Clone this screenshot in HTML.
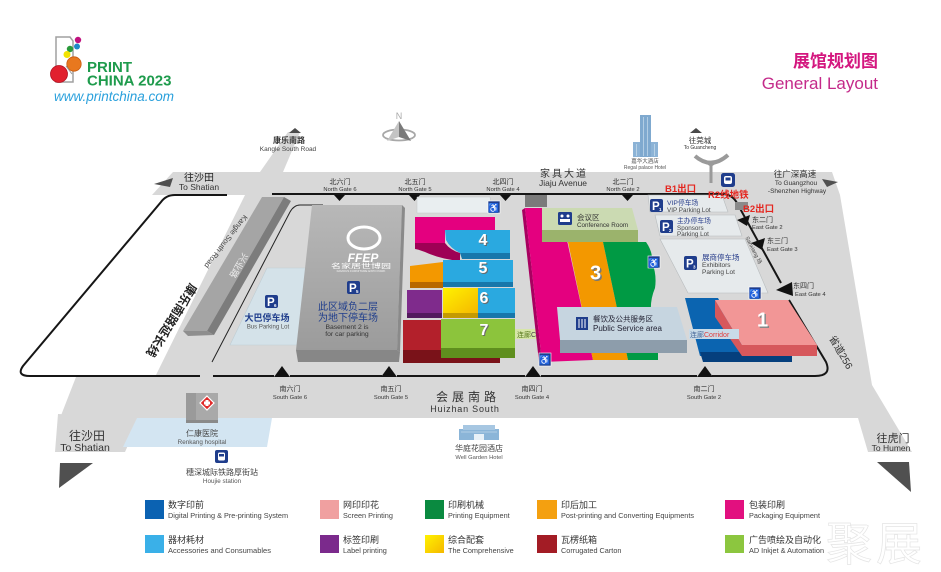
<!DOCTYPE html>
<html><head><meta charset="utf-8">
<style>
html,body{margin:0;padding:0;background:#fff;}
svg{display:block;}
text{font-family:"Liberation Sans","Noto Sans CJK SC",sans-serif;}
</style></head><body>
<svg width="941" height="572" viewBox="0 0 941 572" xmlns="http://www.w3.org/2000/svg">
<defs>
<linearGradient id="gBox" x1="0" y1="0" x2="0" y2="1"><stop offset="0" stop-color="#b8b8b8"/><stop offset="1" stop-color="#9b9b9b"/></linearGradient>
<linearGradient id="gYel" x1="0" y1="0" x2="1" y2="1"><stop offset="0" stop-color="#fff200"/><stop offset="1" stop-color="#f5b800"/></linearGradient>
</defs>
<rect width="941" height="572" fill="#fff"/>

<!-- LOGO -->
<path d="M56,37 L70,37 L73,41 L73,82 L56,82 Z" fill="none" stroke="#a0a0a0" stroke-width="1.5"/>
<circle cx="78" cy="40" r="3.2" fill="#c0117e"/>
<circle cx="77" cy="46.5" r="3" fill="#1e88c8"/>
<circle cx="70" cy="49" r="3.2" fill="#2a9a3a"/>
<circle cx="67" cy="54.5" r="3.5" fill="#f2e200"/>
<circle cx="74" cy="64" r="7.2" fill="#e8781e" stroke="#c85a10" stroke-width="0.8"/>
<circle cx="59" cy="74" r="8.5" fill="#e1202e" stroke="#b01020" stroke-width="0.8"/>
<line x1="66" y1="66" x2="72" y2="74" stroke="#9a9a9a" stroke-width="1"/>
<text x="87" y="72" font-size="15" font-weight="bold" fill="#1e9b4c">PRINT</text>
<text x="87" y="85.5" font-size="15" font-weight="bold" fill="#1e9b4c">CHINA 2023</text>
<text x="54" y="101" font-size="13.5" font-style="italic" fill="#2aa0dc">www.printchina.com</text>

<!-- TITLE -->
<text x="878" y="67" font-size="17" font-weight="bold" fill="#d4177f" text-anchor="end">展馆规划图</text>
<text x="878" y="89" font-size="17" fill="#c42a8a" text-anchor="end">General Layout</text>

<!-- COMPASS -->
<text x="399" y="119" font-size="9" fill="#a8a8a8" text-anchor="middle">N</text>
<ellipse cx="399" cy="135" rx="16" ry="5.5" fill="none" stroke="#a8a8a8" stroke-width="1.8"/>
<polygon points="399,121 387,141 399,137" fill="#c4c4c4"/>
<polygon points="399,121 411,141 399,137" fill="#7a7a7a"/>

<!-- GROUND -->
<polygon points="173,172 832,172 840,195 872,385 912,452 868,452 858,418 60,418 76,377 155,377 245,195 152,195" fill="#d8d8d8"/>
<polygon points="58,414 140,418 125,452 55,452" fill="#d8d8d8"/>
<polygon points="288,132 300,132 283,172 260,172" fill="#d8d8d8"/>
<polygon points="289,133 295,128 301,133" fill="#4a4a4a"/>
<polygon points="137,418 272,418 267,447 123,447" fill="#d3e5f2"/>

<!-- arrows -->
<polygon points="154,184 173,178 170,187" fill="#505050"/>
<polygon points="822,179 838,182 827,187" fill="#505050"/>
<polygon points="60,463 93,463 59,488" fill="#505050"/>
<polygon points="877,462 909,462 911,492" fill="#505050"/>

<!-- black perimeter -->
<g fill="none" stroke="#161616" stroke-width="2">
<path d="M272,194 L722,194 Q732,194 737,203 L781,283"/>
<path d="M789,300 L826,362 Q832,376 815,376 L712,376"/>
<path d="M697,376 L541,376 M525,376 L397,376 M382,376 L290,376 M274,376 L213,376"/>
<path d="M200,376 L30,376 Q16,376 23,366 L161,202 Q166,195 175,195 L227,195"/>
</g>
<path d="M323,205 L300,205 Q294,205 290,212 L212,362" fill="none" stroke="#222" stroke-width="1"/>

<!-- gate triangles -->
<g fill="#111">
<polygon points="334,195 345,195 339.5,201"/>
<polygon points="409,195 420,195 414.5,201"/>
<polygon points="500,195 511,195 505.5,201"/>
<polygon points="622,195 633,195 627.5,201"/>
<polygon points="282,366 274,377 290,377"/>
<polygon points="389,366 381,377 397,377"/>
<polygon points="533,366 525,377 541,377"/>
<polygon points="705,366 697,377 713,377"/>
<polygon points="737,220 750,215 747,226"/>
<polygon points="751,243 765,238 762,250"/>
<polygon points="776,290 792,282 793,296"/>
</g>

<!-- gray bar -->
<polygon points="262,197 284,197 207,331 183,331" fill="#a5a5a5"/>
<polygon points="284,197 291,201 214,335 207,331" fill="#7c7c7c"/>
<polygon points="183,331 207,331 214,335 188,336" fill="#8e8e8e"/>
<text transform="translate(236,264) rotate(120.5)" font-size="9" fill="#ececec" text-anchor="middle">兴业路</text>

<!-- Kangle texts -->
<text transform="translate(224,240) rotate(128)" font-size="7.5" fill="#444" text-anchor="middle">Kangle South Road</text>
<text transform="translate(168,318) rotate(122)" font-size="12" font-weight="bold" fill="#222" text-anchor="middle">康乐南路延长线</text>

<!-- Bus lot -->
<polygon points="267,268 314,268 302,345 230,345" fill="#d4e2e9" stroke="#bfcdd4" stroke-width="0.6"/>
<!-- FFEP box -->
<polygon points="312,205 402,205 397,350 296,350" fill="url(#gBox)"/>
<polygon points="402,205 405,208 400,352 397,350" fill="#8a8a8a"/>
<polygon points="296,350 397,350 400,352 399,362 298,362" fill="#878787"/>
<ellipse cx="364" cy="238" rx="16" ry="11" fill="none" stroke="#fff" stroke-width="3"/>
<text x="363" y="262" font-size="12" font-weight="bold" font-style="italic" fill="#fff" text-anchor="middle">FFEP</text>
<text x="361" y="268" font-size="6.5" fill="#fff" text-anchor="middle" textLength="60" lengthAdjust="spacingAndGlyphs">名家居世博园</text>
<text x="361" y="272" font-size="3" fill="#f4f4f4" text-anchor="middle">FAMOUS FURNITURE EXPO PARK</text>

<!-- P icons -->
<g font-weight="bold">
<g transform="translate(265,295)"><rect width="13" height="13" rx="2" fill="#1f3d8c"/><text x="2" y="11" font-size="11.5" fill="#fff">P</text><text x="9" y="12" font-size="4.5" fill="#fff">6</text></g>
<g transform="translate(347,281)"><rect width="13" height="13" rx="2" fill="#1f3d8c"/><text x="2" y="11" font-size="11.5" fill="#fff">P</text><text x="9" y="12" font-size="4.5" fill="#fff">5</text></g>
<g transform="translate(438,198)"><rect width="13" height="13" rx="2" fill="#1f3d8c"/><text x="2" y="11" font-size="11.5" fill="#fff">P</text><text x="9" y="12" font-size="4.5" fill="#fff">4</text></g>
</g>
<text x="267" y="321" font-size="9" font-weight="bold" fill="#1f3d8c" text-anchor="middle">大巴停车场</text>
<text x="268" y="328.5" font-size="6" fill="#555" text-anchor="middle">Bus Parking Lot</text>
<text x="348" y="310" font-size="10" fill="#1f3d8c" text-anchor="middle">此区域负二层</text>
<text x="348" y="321" font-size="10" fill="#1f3d8c" text-anchor="middle">为地下停车场</text>
<text x="347" y="329" font-size="6.8" fill="#333" text-anchor="middle">Basement 2 is</text>
<text x="347" y="336" font-size="6.8" fill="#333" text-anchor="middle">for car parking</text>

<!-- LEFT HALL BLOCK -->
<polygon points="417,197 490,197 492,213 417,213" fill="#e9eef0" stroke="#c4c8ca" stroke-width="0.5"/>
<polygon points="415,217 495,217 495,230 445,230 445,243 415,243" fill="#e4007f"/>
<path d="M415,243 L445,243 Q450,250 460,253 L460,261 Q440,259 425,252 Q417,249 415,249 Z" fill="#9e0055"/>
<path d="M445,230 L510,230 L510,253 L460,253 Q450,248 446,240 Z" fill="#2aa9e0"/>
<polygon points="460,253 510,253 510,259 462,259" fill="#1777ab"/>
<polygon points="410,266 443,262 443,282 410,282" fill="#f39800"/>
<polygon points="410,282 443,282 443,288 410,288" fill="#b86800"/>
<polygon points="443,260 513,260 513,282 443,282" fill="#2aa9e0"/>
<polygon points="443,282 513,282 513,287 443,287" fill="#1777ab"/>
<polygon points="407,290 442,290 442,313 407,313" fill="#7f2b8c"/>
<polygon points="407,313 442,313 442,318 407,318" fill="#531a5e"/>
<polygon points="443,288 478,288 478,313 443,313" fill="url(#gYel)"/>
<polygon points="443,313 478,313 478,318 443,318" fill="#c49a00"/>
<polygon points="478,288 515,288 515,313 478,313" fill="#2aa9e0"/>
<polygon points="478,313 515,313 515,318 478,318" fill="#1777ab"/>
<polygon points="403,320 441,320 441,350 403,350" fill="#b3202b"/>
<polygon points="441,319 515,319 515,348 441,348" fill="#8cc43c"/>
<polygon points="441,348 515,348 515,358 441,358" fill="#5f8f1e"/>
<polygon points="403,350 441,350 441,358 500,358 500,363 403,363" fill="#7a1219"/>
<g font-size="16" font-weight="bold" text-anchor="middle">
<text x="484" y="246" fill="#6a6a6a">4</text><text x="483" y="245" fill="#fff">4</text>
<text x="484" y="274" fill="#6a6a6a">5</text><text x="483" y="273" fill="#fff">5</text>
<text x="485" y="304" fill="#6a6a6a">6</text><text x="484" y="303" fill="#fff">6</text>
<text x="485" y="336" fill="#6a6a6a">7</text><text x="484" y="335" fill="#fff">7</text>
</g>
<rect x="515" y="329" width="52" height="10" fill="#d7e6a8"/>
<text x="517" y="337" font-size="7" fill="#5a7a20">连廊<tspan fill="#444">Corridor</tspan></text>

<!-- MIDDLE BLOCK -->
<rect x="525" y="195" width="22" height="12" fill="#7a7a7a"/>
<polygon points="522,210 525,208 542,362 539,362" fill="#a80060"/>
<polygon points="525,208 560,208 593,360 542,362" fill="#e4007f"/>
<polygon points="568,242 603,242 628,360 593,360" fill="#f39800"/>
<path d="M603,242 L646,242 Q653,252 652,262 Q657,275 655,288 Q650,300 651,312 Q659,325 658,340 L658,360 L628,360 Z" fill="#009a44"/>
<polygon points="542,208 632,208 638,230 542,230" fill="#cbdab2"/>
<polygon points="542,230 638,230 638,242 542,242" fill="#9bb36c"/>
<rect x="558" y="212" width="14" height="13" rx="1.5" fill="#1f3d8c"/>
<circle cx="562" cy="216" r="1.5" fill="#fff"/><circle cx="568" cy="216" r="1.5" fill="#fff"/>
<rect x="560" y="219" width="10" height="3" fill="#fff"/>
<text x="577" y="220" font-size="7.5" fill="#333">会议区</text>
<text x="577" y="227" font-size="6.3" fill="#333">Conference Room</text>
<text x="597" y="281" font-size="20" font-weight="bold" fill="#777" text-anchor="middle">3</text>
<text x="595.5" y="279.5" font-size="20" font-weight="bold" fill="#fff" text-anchor="middle">3</text>
<polygon points="557,307 677,307 687,340 560,340" fill="#c6d5e0"/>
<polygon points="560,340 687,340 687,353 560,353" fill="#8d9dab"/>
<rect x="576" y="317" width="12" height="13" fill="#1f3d8c"/>
<g stroke="#fff" stroke-width="1"><line x1="579" y1="319" x2="579" y2="328"/><line x1="582" y1="319" x2="582" y2="328"/><line x1="585" y1="319" x2="585" y2="328"/></g>
<text x="593" y="321.5" font-size="7.5" fill="#223">餐饮及公共服务区</text>
<text x="593" y="331" font-size="8" fill="#223">Public Service area</text>

<!-- RIGHT PARKING -->
<polygon points="648,195 722,195 728,212 650,212" fill="#e6eaec" stroke="#b8bcbe" stroke-width="0.6"/>
<polygon points="655,215 735,215 742,236 660,236" fill="#e6eaec" stroke="#b8bcbe" stroke-width="0.6"/>
<polygon points="660,239 745,239 768,293 688,293" fill="#e6eaec" stroke="#b8bcbe" stroke-width="0.6"/>
<g font-weight="bold">
<g transform="translate(650,199)"><rect width="13" height="13" rx="2" fill="#1f3d8c"/><text x="2" y="11" font-size="11.5" fill="#fff">P</text><text x="9" y="12" font-size="4.5" fill="#fff">1</text></g>
<g transform="translate(660,220)"><rect width="13" height="13" rx="2" fill="#1f3d8c"/><text x="2" y="11" font-size="11.5" fill="#fff">P</text><text x="9" y="12" font-size="4.5" fill="#fff">2</text></g>
<g transform="translate(684,256)"><rect width="13" height="14" rx="2" fill="#1f3d8c"/><text x="2" y="11.5" font-size="11.5" fill="#fff">P</text><text x="9" y="12.5" font-size="4.5" fill="#fff">3</text></g>
</g>
<text x="667" y="205" font-size="6.8" fill="#2a3f8c">VIP停车场</text>
<text x="667" y="212" font-size="6.3" fill="#444">VIP Parking Lot</text>
<text x="677" y="223" font-size="6.8" fill="#2a3f8c">主办停车场</text>
<text x="677" y="230" font-size="6.3" fill="#444">Sponsors</text>
<text x="677" y="236" font-size="6.3" fill="#444">Parking Lot</text>
<text x="702" y="260" font-size="7.5" fill="#2a3f8c">展商停车场</text>
<text x="702" y="267" font-size="6.5" fill="#444">Exhibitors</text>
<text x="702" y="274" font-size="6.5" fill="#444">Parking Lot</text>

<!-- HALL 1 -->
<polygon points="685,298 718,298 742,345 790,345 790,356 700,356" fill="#0b64b0"/>
<polygon points="700,352 792,352 792,362 703,362" fill="#053f7d"/>
<polygon points="715,300 715,317 742,356 817,356 817,345 742,345" fill="#d6585c"/>
<polygon points="715,300 788,300 817,345 742,345" fill="#f29696"/>
<text x="764" y="328" font-size="20" font-weight="bold" fill="#888" text-anchor="middle">1</text>
<text x="762.5" y="326.5" font-size="20" font-weight="bold" fill="#fff" text-anchor="middle">1</text>
<rect x="689" y="329" width="50" height="10" fill="#c9dbe8"/>
<text x="690" y="337" font-size="7" fill="#4a6a9a">连廊<tspan fill="#e03a3a">Corridor</tspan></text>

<!-- disabled icons -->
<g font-family="DejaVu Sans" font-size="9" text-anchor="middle" fill="#fff">
<rect x="488" y="201" width="12" height="12" fill="#1f3d8c" stroke="#fff" stroke-width="0.6"/><text x="494" y="211">♿</text>
<rect x="648" y="256" width="12" height="12" fill="#1f3d8c" stroke="#fff" stroke-width="0.6"/><text x="654" y="266">♿</text>
<rect x="539" y="353" width="12" height="13" fill="#1f3d8c" stroke="#fff" stroke-width="0.6"/><text x="545" y="363">♿</text>
<rect x="749" y="287" width="12" height="12" fill="#1f3d8c" stroke="#fff" stroke-width="0.6"/><text x="755" y="297">♿</text>
</g>

<!-- TOP LABELS -->
<text x="199" y="181" font-size="10" fill="#222" text-anchor="middle">往沙田</text>
<text x="199" y="190" font-size="8.5" fill="#333" text-anchor="middle">To Shatian</text>
<text x="289" y="143" font-size="8" font-weight="bold" fill="#333" text-anchor="middle">康乐南路</text>
<text x="288" y="151" font-size="6.5" fill="#444" text-anchor="middle">Kangle South Road</text>
<g text-anchor="middle" fill="#333">
<text x="340" y="184" font-size="7">北六门</text><text x="340" y="191" font-size="5.8">North Gate  6</text>
<text x="415" y="184" font-size="7">北五门</text><text x="415" y="191" font-size="5.8">North Gate 5</text>
<text x="503" y="184" font-size="7">北四门</text><text x="503" y="191" font-size="5.8">North Gate 4</text>
<text x="623" y="184" font-size="7">北二门</text><text x="623" y="191" font-size="5.8">North Gate 2</text>
<text x="564" y="177" font-size="10" letter-spacing="2">家具大道</text>
<text x="563" y="186" font-size="8.5">Jiaju Avenue</text>
<text x="795" y="177" font-size="8.5">往广深高速</text>
<text x="796" y="185" font-size="6.5">To Guangzhou</text>
<text x="797" y="193" font-size="6.5">-Shenzhen Highway</text>
<text x="700" y="143" font-size="7.5">往莞城</text>
<text x="700" y="149" font-size="5">To Guancheng</text>
<text x="645" y="163" font-size="5.5" fill="#555">嘉华大酒店</text>
<text x="645" y="169" font-size="5" fill="#555">Regal palace Hotel</text>
</g>
<polygon points="690,133 696,128 702,133" fill="#4a4a4a"/>
<!-- interchange -->
<path d="M695,156 Q711,170 728,155" fill="none" stroke="#9a9a9a" stroke-width="4"/>
<path d="M702,160 L711,166 L720,160" fill="none" stroke="#9a9a9a" stroke-width="1.5"/>
<line x1="711" y1="163" x2="711" y2="183" stroke="#9a9a9a" stroke-width="3"/>
<!-- regal hotel building -->
<rect x="640" y="115" width="11" height="42" fill="#7fa9cf"/>
<rect x="633" y="142" width="7" height="15" fill="#8cb3d6"/>
<rect x="651" y="142" width="7" height="15" fill="#8cb3d6"/>
<g stroke="#d6e6f2" stroke-width="0.6">
<line x1="643.5" y1="117" x2="643.5" y2="156"/><line x1="647.5" y1="117" x2="647.5" y2="156"/>
<line x1="636.5" y1="144" x2="636.5" y2="156"/><line x1="654.5" y1="144" x2="654.5" y2="156"/>
</g>
<!-- metro -->
<rect x="721" y="173" width="14" height="14" rx="2.5" fill="#1f3d8c"/>
<rect x="724" y="176" width="8" height="8" rx="2" fill="#fff"/>
<rect x="725.5" y="177.5" width="5" height="3" fill="#1f3d8c"/>
<rect x="735" y="202" width="13" height="8" fill="#8a8a8a"/>
<text x="665" y="192" font-size="9.5" font-weight="bold" fill="#e4261f">B1出口</text>
<text x="708" y="198" font-size="9.5" font-weight="bold" fill="#e4261f">R2线地铁</text>
<text x="743" y="212" font-size="9.5" font-weight="bold" fill="#e4261f">B2出口</text>

<!-- east gates -->
<g fill="#333">
<text x="752" y="222" font-size="7">东二门</text><text x="752" y="229" font-size="5.8">East Gate 2</text>
<text x="767" y="243" font-size="7">东三门</text><text x="767" y="251" font-size="5.8">East Gate 3</text>
<text x="793" y="288" font-size="7">东四门</text><text x="795" y="296" font-size="5.8">East Gate 4</text>
</g>
<text transform="translate(752,251) rotate(63)" font-size="5.5" fill="#444" text-anchor="middle">Sanxiang 场</text>
<text transform="translate(838,354) rotate(60)" font-size="10" fill="#333" text-anchor="middle">省道256</text>

<!-- south gates -->
<g text-anchor="middle" fill="#333">
<text x="290" y="391" font-size="7">南六门</text><text x="290" y="399" font-size="5.8">South Gate 6</text>
<text x="391" y="391" font-size="7">南五门</text><text x="391" y="399" font-size="5.8">South Gate 5</text>
<text x="532" y="391" font-size="7">南四门</text><text x="532" y="399" font-size="5.8">South Gate 4</text>
<text x="704" y="391" font-size="7">南二门</text><text x="704" y="399" font-size="5.8">South Gate 2</text>
<text x="468" y="401" font-size="12" letter-spacing="4">会展南路</text>
<text x="465" y="412" font-size="9" letter-spacing="0.8">Huizhan  South</text>
<text x="479" y="451" font-size="8" fill="#444">华庭花园酒店</text>
<text x="479" y="459" font-size="5.8" fill="#555">Well Garden Hotel</text>
<text x="202" y="436" font-size="8" fill="#444">仁康医院</text>
<text x="202" y="444" font-size="6.3" fill="#555">Renkang hospital</text>
<text x="222" y="475" font-size="8" fill="#444">穗深城际铁路厚街站</text>
<text x="222" y="483" font-size="6.3" fill="#555">Houjie station</text>
<text x="87" y="440" font-size="12" fill="#333">往沙田</text>
<text x="85" y="451" font-size="10.5" fill="#333">To Shatian</text>
<text x="893" y="442" font-size="11" fill="#333">往虎门</text>
<text x="891" y="451" font-size="8.5" fill="#333">To Humen</text>
</g>

<!-- well garden hotel icon -->
<rect x="459" y="429" width="40" height="11" fill="#8bb5d8"/>
<rect x="463" y="425" width="32" height="5" fill="#a7c7e2"/>
<rect x="474" y="434" width="10" height="6" fill="#e8f1f8"/>
<g stroke="#dce9f4" stroke-width="0.6"><line x1="461" y1="432" x2="497" y2="432"/></g>
<!-- hospital icon -->
<rect x="186" y="393" width="32" height="30" fill="#a9a9a9"/>
<rect x="186" y="393" width="10" height="30" fill="#9a9a9a"/>
<rect x="186" y="420" width="32" height="3" fill="#8a8a8a"/>
<polygon points="207,396 214,403 207,410 200,403" fill="#e02a2a" stroke="#fff" stroke-width="1.2"/>
<rect x="205.5" y="400" width="3" height="6" fill="#fff"/><rect x="204" y="401.5" width="6" height="3" fill="#fff"/>
<!-- houjie metro -->
<rect x="215" y="450" width="13" height="13" rx="2" fill="#1f3d8c"/>
<rect x="218" y="452.5" width="7" height="8" rx="1.5" fill="#fff"/>
<rect x="219" y="454" width="5" height="2.5" fill="#1f3d8c"/>

<!-- LEGEND -->
<g>
<rect x="145" y="500" width="19" height="19" fill="#0b62b2"/>
<rect x="320" y="500" width="19" height="19" fill="#f0a0a0"/>
<rect x="425" y="500" width="19" height="19" fill="#0a8a40"/>
<rect x="537" y="500" width="20" height="19" fill="#f4a010"/>
<rect x="725" y="500" width="19" height="19" fill="#e2107f"/>
<rect x="145" y="535" width="19" height="18" fill="#3ab0e8"/>
<rect x="320" y="535" width="19" height="18" fill="#7b2a8c"/>
<rect x="425" y="535" width="19" height="18" fill="url(#gYel)"/>
<rect x="537" y="535" width="20" height="18" fill="#a31c25"/>
<rect x="725" y="535" width="19" height="18" fill="#8cc63f"/>
</g>
<g fill="#333">
<text x="168" y="508" font-size="9">数字印前</text>
<text x="168" y="518" font-size="7.3" fill="#444">Digital Printing &amp; Pre-printing System</text>
<text x="343" y="508" font-size="9">网印印花</text>
<text x="343" y="518" font-size="7.3" fill="#444">Screen Printing</text>
<text x="448" y="508" font-size="9">印刷机械</text>
<text x="448" y="518" font-size="7.3" fill="#444">Printing Equipment</text>
<text x="561" y="508" font-size="9">印后加工</text>
<text x="561" y="518" font-size="7.3" fill="#444">Post-printing and Converting Equipments</text>
<text x="749" y="508" font-size="9">包装印刷</text>
<text x="749" y="518" font-size="7.3" fill="#444">Packaging Equipment</text>
<text x="168" y="543" font-size="9">器材耗材</text>
<text x="168" y="553" font-size="7.5" fill="#444">Accessories and Consumables</text>
<text x="343" y="543" font-size="9">标签印刷</text>
<text x="343" y="553" font-size="7.3" fill="#444">Label printing</text>
<text x="448" y="543" font-size="9">综合配套</text>
<text x="448" y="553" font-size="7.3" fill="#444">The Comprehensive</text>
<text x="561" y="543" font-size="9">瓦楞纸箱</text>
<text x="561" y="553" font-size="7.3" fill="#444">Corrugated Carton</text>
<text x="749" y="543" font-size="9">广告喷绘及自动化</text>
<text x="749" y="553" font-size="7.3" fill="#444">AD Inkjet &amp; Automation</text>
</g>
<!-- watermark -->
<text x="826" y="560" font-size="46" fill="#fff" stroke="#e2e2e2" stroke-width="0.7" letter-spacing="4" opacity="0.9">聚展</text>
</svg>
</body></html>
